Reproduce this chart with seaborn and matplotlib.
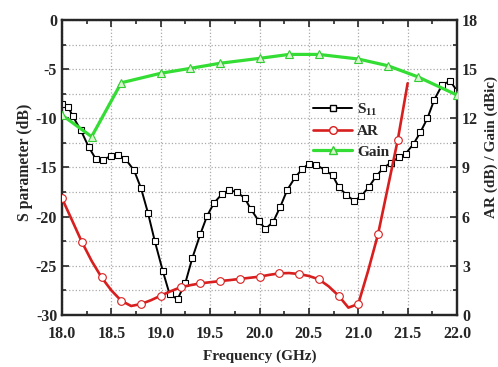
import numpy as np
import pandas as pd
import matplotlib
matplotlib.use("Agg")
import matplotlib.pyplot as plt
from matplotlib.ticker import MultipleLocator
from matplotlib.lines import Line2D
import seaborn as sns

# S11 (left axis, dB)
s11_freq = [18.00, 18.06, 18.11, 18.19, 18.27, 18.34, 18.42, 18.50, 18.57, 18.64,
            18.73, 18.80, 18.87, 18.94, 19.02, 19.09, 19.17, 19.25, 19.32, 19.40,
            19.47, 19.54, 19.62, 19.69, 19.77, 19.85, 19.91, 19.99, 20.06, 20.14,
            20.21, 20.28, 20.36, 20.43, 20.50, 20.57, 20.66, 20.74, 20.80, 20.88,
            20.96, 21.03, 21.11, 21.18, 21.25, 21.33, 21.41, 21.48, 21.56, 21.63,
            21.70, 21.77, 21.85, 21.93, 22.00]
s11_val = [-8.5, -8.8, -9.8, -11.2, -12.9, -14.1, -14.2, -13.8, -13.7, -14.1,
           -15.3, -17.1, -19.6, -22.5, -25.5, -27.9, -28.4, -26.7, -24.2, -21.8,
           -19.9, -18.6, -17.7, -17.3, -17.5, -18.1, -19.2, -20.4, -21.25, -20.5,
           -19.0, -17.3, -16.0, -15.2, -14.6, -14.7, -15.25, -15.8, -16.95, -17.8,
           -18.4, -17.9, -16.95, -15.9, -15.1, -14.5, -13.97, -13.6, -12.6, -11.4,
           -10.0, -8.1, -6.6, -6.2, -7.2]

# AR (right axis, dB)
ar_freq = [18.0, 18.1, 18.2, 18.3, 18.4, 18.5, 18.6, 18.7, 18.8, 18.9,
           19.0, 19.1, 19.2, 19.3, 19.4, 19.5, 19.6, 19.7, 19.8, 19.9,
           20.0, 20.1, 20.2, 20.3, 20.4, 20.5, 20.6, 20.7, 20.8, 20.9,
           21.0, 21.1, 21.2, 21.3, 21.4, 21.5]
ar_val = [7.12, 5.8, 4.47, 3.3, 2.30, 1.5, 0.87, 0.55, 0.67, 0.9,
          1.18, 1.45, 1.69, 1.82, 1.93, 2.0, 2.07, 2.13, 2.2, 2.27,
          2.34, 2.45, 2.54, 2.56, 2.50, 2.38, 2.18, 1.75, 1.18, 0.45,
          0.67, 2.7, 4.92, 7.8, 10.68, 14.14]

# Gain (right axis, dBic)
gain_freq = [18.0, 18.3, 18.6, 19.0, 19.3, 19.6, 20.0, 20.3, 20.6, 21.0, 21.3, 21.6, 22.0]
gain_val = [12.2, 10.88, 14.17, 14.75, 15.05, 15.36, 15.66, 15.9, 15.9, 15.62, 15.21, 14.54, 13.42]

sns.set_style("ticks")
plt.rcParams['font.family'] = ['Liberation Serif', 'DejaVu Serif']
plt.rcParams['font.weight'] = 'bold'
plt.rcParams['axes.unicode_minus'] = False
plt.rcParams['mathtext.fontset'] = 'custom'
plt.rcParams['mathtext.rm'] = 'Liberation Serif:bold'
plt.rcParams['mathtext.it'] = 'Liberation Serif:bold'
plt.rcParams['mathtext.bf'] = 'Liberation Serif:bold'

fig = plt.figure(figsize=(4.98, 3.67), dpi=100)
ax = fig.add_axes([0.1245, 0.1417, 0.7932, 0.8038])
ax2 = ax.twinx()

s11 = pd.DataFrame({'f': s11_freq, 'v': s11_val})
ar = pd.DataFrame({'f': ar_freq, 'v': ar_val})
gain = pd.DataFrame({'f': gain_freq, 'v': gain_val})

sns.lineplot(data=s11, x='f', y='v', ax=ax, color='black', linewidth=1.4,
             marker='s', markersize=4.5, markerfacecolor='white',
             markeredgecolor='black', markeredgewidth=0.8, zorder=3)
sns.lineplot(data=ar, x='f', y='v', ax=ax2, color='#d81e1e', linewidth=1.9,
             marker='o', markersize=5.5, markerfacecolor='white',
             markeredgecolor='#d81e1e', markeredgewidth=0.8, markevery=2, zorder=3)
sns.lineplot(data=gain, x='f', y='v', ax=ax2, color='#33dd33', linewidth=2.3,
             marker='^', markersize=6, markerfacecolor='#d8f5d0',
             markeredgecolor='#33cc33', markeredgewidth=0.8, zorder=3)

ax.set_xlim(18.0, 22.0)
ax.set_ylim(-30, 0)
ax2.set_ylim(0, 18)

ax.xaxis.set_major_locator(MultipleLocator(0.5))
ax.xaxis.set_minor_locator(MultipleLocator(0.25))
ax.yaxis.set_major_locator(MultipleLocator(5))
ax.yaxis.set_minor_locator(MultipleLocator(2.5))
ax2.yaxis.set_major_locator(MultipleLocator(3))
ax2.yaxis.set_minor_locator(MultipleLocator(1.5))
ax.xaxis.set_major_formatter(plt.FormatStrFormatter('%.1f'))

ax.grid(True, which='major', axis='x', linestyle=':', color='#aaaaaa', linewidth=0.9)
ax.grid(True, which='both', axis='y', linestyle=':', color='#aaaaaa', linewidth=0.9)
ax.set_axisbelow(True)

ax.tick_params(which='both', direction='in', top=True, right=False, labelsize=11.5, width=1.2)
ax.tick_params(which='major', length=5)
ax.tick_params(which='minor', length=3)
ax.tick_params(axis='x', which='major', pad=8)
ax2.tick_params(which='both', direction='in', labelsize=11.5, width=1.2)
ax2.tick_params(which='major', length=5)
ax2.tick_params(which='minor', length=3)

for a in (ax, ax2):
    for sp in a.spines.values():
        sp.set_linewidth(1.6)
        sp.set_visible(True)

ax.set_xlabel('Frequency (GHz)', fontsize=11, fontweight='bold', labelpad=5)
ax.set_ylabel('S parameter (dB)', fontsize=11.3, fontweight='bold')
ax2.set_ylabel('AR (dB) / Gain (dBic)', fontsize=11, fontweight='bold')
ax.yaxis.set_label_coords(-0.073, 0.519)
ax2.yaxis.set_label_coords(1.07, 0.569)

handles = [
    Line2D([], [], color='black', linewidth=1.4, marker='s', markersize=4.5,
           markerfacecolor='white', markeredgecolor='black'),
    Line2D([], [], color='#d81e1e', linewidth=1.9, marker='o', markersize=5.5,
           markerfacecolor='white', markeredgecolor='#d81e1e'),
    Line2D([], [], color='#33dd33', linewidth=2.3, marker='^', markersize=6,
           markerfacecolor='#d8f5d0', markeredgecolor='#33cc33'),
]
ax2.legend(handles, ['S$_{11}$', 'AR', 'Gain'], loc='upper left',
           bbox_to_anchor=(0.6, 0.77), frameon=False, handlelength=2.6,
           handletextpad=0.3, labelspacing=0.45, prop={'size': 11, 'weight': 'bold'})

fig.savefig('out.png', dpi=100)
